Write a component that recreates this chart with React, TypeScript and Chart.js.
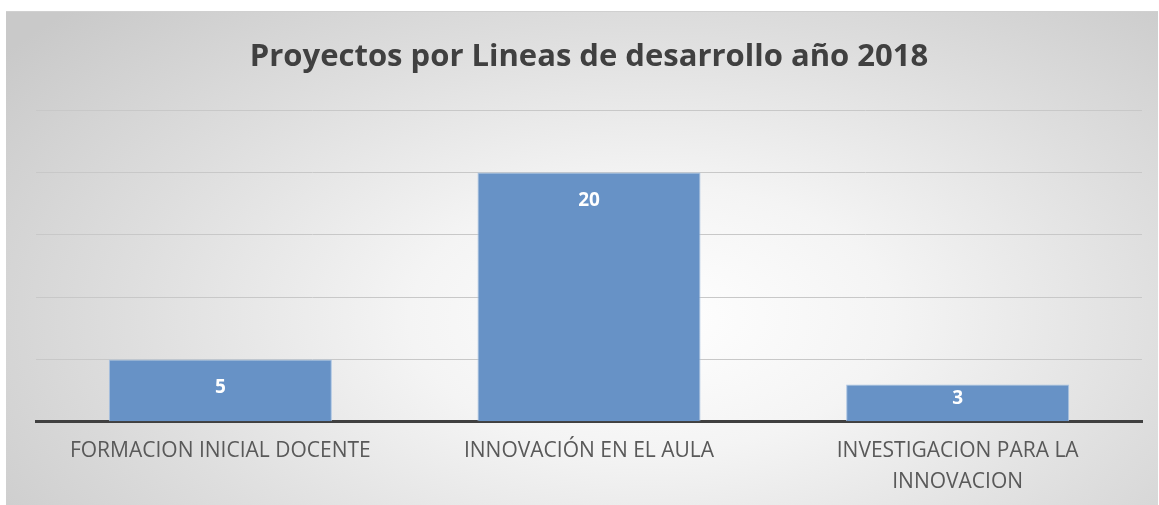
import React, { useEffect, useRef } from "react";
import { Chart, registerables } from "chart.js";

Chart.register(...registerables);

const chartTitle = "Proyectos por Lineas de desarrollo año 2018";
const categories: (string | string[])[] = [
  "FORMACION INICIAL DOCENTE",
  "INNOVACIÓN EN EL AULA",
  ["INVESTIGACION PARA LA", "INNOVACION"],
];
const projectCounts = [5, 20, 3];
const yMax = 25;
const yStep = 5;

const valueLabels = {
  id: "valueLabels",
  afterDatasetsDraw(chart: any) {
    const ctx = chart.ctx;
    const meta = chart.getDatasetMeta(0);
    ctx.save();
    ctx.fillStyle = "#ffffff";
    ctx.font = "bold 19px 'Open Sans', sans-serif";
    ctx.textAlign = "center";
    ctx.textBaseline = "middle";
    meta.data.forEach((bar: any, i: number) => {
      const top = bar.y;
      const bottom = bar.base;
      const y = Math.min(top + 28, bottom - 23);
      ctx.fillText(String(chart.data.datasets[0].data[i]), bar.x, y);
    });
    ctx.restore();
  },
};

export default function App() {
  const ref = useRef<HTMLCanvasElement | null>(null);
  useEffect(() => {
    if (!ref.current) return;
    const chart = new Chart(ref.current, {
      type: "bar",
      data: {
        labels: categories,
        datasets: [
          {
            data: projectCounts,
            backgroundColor: "#6792c6",
            borderColor: "#a9c3e2",
            borderWidth: 1,
            barPercentage: 0.605,
            categoryPercentage: 1,
          },
        ],
      },
      options: {
        animation: false,
        responsive: false,
        layout: { padding: { left: 30, right: 16, top: 0, bottom: -7 } },
        plugins: {
          legend: { display: false },
          tooltip: { enabled: false },
          title: {
            display: true,
            text: chartTitle,
            color: "#404040",
            font: { family: "'Open Sans', sans-serif", size: 31, weight: "bold", lineHeight: 1.2 },
            padding: { top: 27, bottom: 34 },
          },
        },
        scales: {
          x: {
            grid: { display: false, drawTicks: false },
            border: { display: true, color: "#404040", width: 3 },
            ticks: {
              color: "#595959",
              font: { family: "'Open Sans', sans-serif", size: 21, lineHeight: 1.48 },
              padding: 14,
              maxRotation: 0,
              autoSkip: false,
            },
          },
          y: {
            min: 0,
            max: yMax,
            ticks: { display: false, stepSize: yStep },
            grid: { color: "#c8c8c8", lineWidth: 1, drawTicks: false },
            border: { display: false },
          },
        },
      },
      plugins: [valueLabels],
    });
    return () => chart.destroy();
  }, []);
  return (
    <div
      style={{
        position: "absolute",
        left: 6,
        top: 11,
        width: 1152,
        height: 494,
        borderTop: "1px solid #d0d0d0",
        boxSizing: "border-box",
        background:
          "radial-gradient(ellipse 70% 90% at 56% 62%, #ffffff 0%, #f4f4f4 30%, #dedede 65%, #c9c9c9 100%)",
      }}
    >
      <canvas ref={ref} width={1152} height={493} style={{ display: "block" }} />
    </div>
  );
}
